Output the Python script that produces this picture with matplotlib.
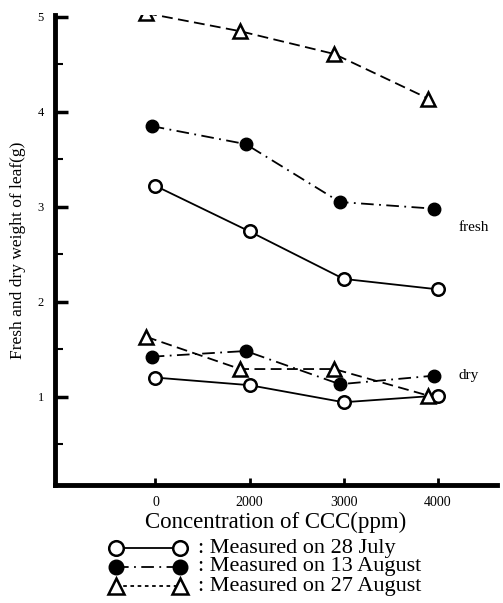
import matplotlib.pyplot as plt
from matplotlib.lines import Line2D

# concentrations (equally spaced categories on the chart)
conc = ["0", "2000", "3000", "4000"]

# fresh weight (g)
july28_fresh = [3.22, 2.74, 2.24, 2.13]
aug13_fresh = [3.85, 3.66, 3.05, 2.98]
aug27_fresh = [5.04, 4.85, 4.61, 4.14]

# dry weight (g)
july28_dry = [1.20, 1.12, 0.94, 1.01]
aug13_dry = [1.42, 1.48, 1.13, 1.22]
aug27_dry = [1.63, 1.29, 1.29, 1.01]

yticks = [1, 2, 3, 4, 5]

plt.rcParams['font.family'] = ['Liberation Serif', 'DejaVu Serif']

fig = plt.figure(figsize=(5.03, 6.03), dpi=100)
ax = fig.add_axes([0.109, 0.196, 0.879, 0.779])

pos = list(range(len(conc)))
# small horizontal offsets like in the scan
off = {'jul': 0.0, 'a13': -0.04, 'a27': -0.10}

def xs(key):
    return [p + off[key] for p in pos]

styles = {
    'jul': dict(color='black', ls='-', lw=1.3, marker='o', ms=9,
                mfc='white', mec='black', mew=1.8),
    'a13': dict(color='black', ls=(0, (7, 3, 1, 3)), lw=1.3, marker='o', ms=9,
                mfc='black', mec='black'),
    'a27': dict(color='black', ls=(0, (6, 3)), lw=1.3, marker='^', ms=10,
                mfc='white', mec='black', mew=1.8),
}

ax.plot(xs('jul'), july28_fresh, **styles['jul'])
ax.plot(xs('a13'), aug13_fresh, **styles['a13'])
ax.plot(xs('a27'), aug27_fresh, **styles['a27'])
ax.plot(xs('jul'), july28_dry, **styles['jul'])
ax.plot(xs('a13'), aug13_dry, **styles['a13'])
ax.plot(xs('a27'), aug27_dry, **styles['a27'])

ax.text(3.22, 2.78, "fresh", fontsize=11, va='center')
ax.text(3.22, 1.22, "dry", fontsize=11, va='center')

ax.set_xlim(-1.07, 3.63)
ax.set_ylim(0.07, 5.02)
ax.set_xticks(pos)
ax.set_xticklabels(conc, fontsize=10)
ax.set_yticks(yticks)
ax.set_yticklabels([str(v) for v in yticks], fontsize=9)
ax.set_yticks([v + 0.5 for v in range(0, 5)], minor=True)

ax.spines['top'].set_visible(False)
ax.spines['right'].set_visible(False)
ax.spines['left'].set_linewidth(3.5)
ax.spines['bottom'].set_linewidth(3.5)
ax.tick_params(axis='y', which='major', direction='in', length=9, width=2.5, pad=8)
ax.tick_params(axis='y', which='minor', direction='in', length=6, width=1.5)
ax.tick_params(axis='x', direction='in', length=5, width=2, pad=8)

ax.set_ylabel("Fresh and dry weight of leaf(g)", fontsize=12.5, labelpad=8)
ax.set_xlabel("Concentration of CCC(ppm)", fontsize=16.5, labelpad=2)

# legend drawn below the axes
leg_rows = [
    ('jul', ": Measured on 28 July"),
    ('a13', ": Measured on 13 August"),
    ('a27', ": Measured on 27 August"),
]
W, H = 503, 603
for i, (key, label) in enumerate(leg_rows):
    y = 1 - (548 + i * 19) / H
    st = dict(styles[key])
    st['ms'] = 10.5 if key != 'a27' else 11
    if key == 'a27':
        st['ls'] = (0, (2, 2))
    fig.add_artist(Line2D([116 / W, 180 / W], [y, y], transform=fig.transFigure, **st))
    fig.text(198 / W, y, label, fontsize=16, va='center', ha='left')

fig.savefig("out.png", dpi=100)
